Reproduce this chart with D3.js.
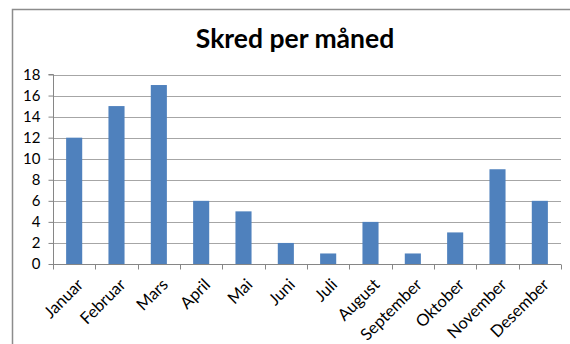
<!DOCTYPE html>
<html>
<head>
<meta charset="utf-8">
<script src="https://cdn.jsdelivr.net/npm/d3@7"></script>
<style>
body { margin: 0; background: #fff; }
text { font-family: Lato, "Open Sans", sans-serif; fill: #000; }
</style>
</head>
<body>
<svg id="chart" width="570" height="344"></svg>
<script>
// chart data
var months = ["Januar", "Februar", "Mars", "April", "Mai", "Juni", "Juli", "August", "September", "Oktober", "November", "Desember"]
var skred = [12, 15, 17, 6, 5, 2, 1, 4, 1, 3, 9, 6]
var yTicks = [0, 2, 4, 6, 8, 10, 12, 14, 16, 18]
var title = "Skred per måned"

var svg = d3.select("#chart")

// outer frame (only left/top visible in the crop)
svg.append("rect")
    .attr("x", 12.5).attr("y", 9.5)
    .attr("width", 600).attr("height", 400)
    .attr("fill", "none").attr("stroke", "#8c8c8c").attr("stroke-width", 1.5)

var plotLeft = 53, plotRight = 561, plotTop = 74.5, plotBottom = 264

var x = d3.scaleBand().domain(months).range([plotLeft, plotRight]).paddingInner(0.62).paddingOuter(0.31)
var y = d3.scaleLinear().domain([0, 18]).range([plotBottom, plotTop])

// gridlines
svg.append("g").selectAll("line")
    .data(yTicks.filter(function(d){ return d > 0 }))
    .enter().append("line")
    .attr("x1", plotLeft).attr("x2", plotRight)
    .attr("y1", function(d){ return Math.round(y(d)) + 0.5 })
    .attr("y2", function(d){ return Math.round(y(d)) + 0.5 })
    .attr("stroke", "#a6a6a6").attr("stroke-width", 1)

// bars
svg.append("g").selectAll("rect")
    .data(skred)
    .enter().append("rect")
    .attr("x", function(d, i){ return x(months[i]) })
    .attr("width", x.bandwidth())
    .attr("y", function(d){ return y(d) })
    .attr("height", function(d){ return plotBottom - y(d) })
    .attr("fill", "#4f81bd")

// y axis
var yAxis = svg.append("g")
    .attr("transform", "translate(" + (plotLeft + 0.5) + ",0)")
    .call(d3.axisLeft(y).tickValues(yTicks).tickSize(5).tickPadding(8))
yAxis.select(".domain").attr("stroke", "#868686").attr("d", "M-5," + plotTop + "H0V" + plotBottom)
yAxis.selectAll(".tick line").attr("stroke", "#868686")
yAxis.selectAll(".tick text").attr("font-size", 15).attr("font-family", "Lato, sans-serif").attr("fill", "#000")

// x axis, ticks at category boundaries
var xAxisG = svg.append("g")
    .attr("transform", "translate(0," + (plotBottom + 0.5) + ")")
xAxisG.append("line")
    .attr("x1", plotLeft).attr("x2", plotRight)
    .attr("stroke", "#868686")
var bounds = d3.range(months.length + 1).map(function(i){ return plotLeft + i * (plotRight - plotLeft) / months.length })
xAxisG.selectAll(".bt")
    .data(bounds)
    .enter().append("line")
    .attr("x1", function(d){ return Math.round(d) + 0.5 })
    .attr("x2", function(d){ return Math.round(d) + 0.5 })
    .attr("y1", 0).attr("y2", 5)
    .attr("stroke", "#868686")

xAxisG.selectAll("text")
    .data(months)
    .enter().append("text")
    .attr("transform", function(d){
        var cx = x(d) + x.bandwidth() / 2 + 2
        return "translate(" + cx + ",13) rotate(-45)"
    })
    .attr("text-anchor", "end")
    .attr("dy", "0.7em")
    .attr("font-size", 16.5)
    .text(function(d){ return d })

// title
svg.append("text")
    .attr("x", 295).attr("y", 48)
    .attr("text-anchor", "middle")
    .attr("font-size", 26.5)
    .attr("font-weight", "bold")
    .text(title)
</script>
</body>
</html>
